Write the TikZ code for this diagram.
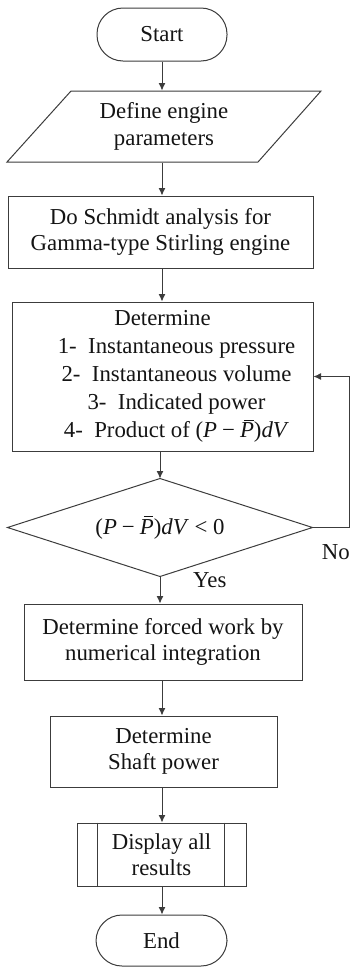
\documentclass[tikz,border=0pt]{standalone}
\usepackage{fontspec}
\setmainfont{Liberation Serif}
\usetikzlibrary{arrows.meta}
\definecolor{linec}{RGB}{60,60,60}
\definecolor{textc}{RGB}{20,20,20}
\newcommand{\pbar}{\textit{P}\llap{\raisebox{0.73em}{\rule{0.42em}{0.055em}}\hspace{0.02em}}}
\newcommand{\pexpr}{(\textit{P}\hspace{0.22em}−\hspace{0.22em}\pbar)\textit{dV}}
\begin{document}
\begin{tikzpicture}[x=1pt,y=-1pt,
  base/.style={draw=linec,line width=1pt,inner sep=0pt,text=textc,align=center,
    font=\fontsize{22.8pt}{26.5pt}\selectfont},
  proc/.style={base,rectangle},
  term/.style={base,rectangle,rounded corners=26pt},
  shape only/.style={draw=linec,line width=1pt},
  arr/.style={draw=linec,line width=1pt,-{Latex[length=7.5pt,width=7pt]}},
  lbl/.style={text=textc,inner sep=0pt,font=\fontsize{22.8pt}{26.5pt}\selectfont}]
\useasboundingbox (0,0) rectangle (350,967);

\node[term,minimum width=130pt,minimum height=53pt] (start) at (162,34.5) {Start};

\node[base,draw=none,minimum width=250pt,minimum height=71pt] (define) at (164,126.5) {Define engine\\parameters};
\draw[shape only] (71,91) -- (321,91) -- (258,162) -- (7,162) -- cycle;

\node[proc,minimum width=305pt,minimum height=72pt] (schmidt) at (160.5,232) {Do Schmidt analysis for\\Gamma-type Stirling engine};

\node[proc,minimum width=301pt,minimum height=149pt,font=\fontsize{22.8pt}{28pt}\selectfont] (det) at (162.5,376.5)
  {Determine\\
   \hspace*{28pt}1-\ \ Instantaneous pressure\\
   \hspace*{28pt}2-\ \ Instantaneous volume\\
   \hspace*{28pt}3-\ \ Indicated power\\
   \hspace*{28pt}4-\ \ Product of \pexpr};

\node[base,draw=none,minimum width=304pt,minimum height=97pt] (dec) at (160,527.5) {\pexpr\ <\ 0};
\draw[shape only] (dec.north) -- (dec.east) -- (dec.south) -- (dec.west) -- cycle;

\node[proc,minimum width=278pt,minimum height=76pt] (forced) at (163,642) {Determine forced work by\\numerical integration};

\node[proc,minimum width=227pt,minimum height=71pt] (shaft) at (163.5,751.5) {Determine\\Shaft power};

\node[proc,minimum width=169pt,minimum height=63pt] (disp) at (161.5,854.5) {Display all\\results};
\draw[shape only] ([xshift=21pt]disp.north west) -- ([xshift=21pt]disp.south west);
\draw[shape only] ([xshift=-22pt]disp.north east) -- ([xshift=-22pt]disp.south east);

\node[term,minimum width=131pt,minimum height=51pt] (end) at (161.5,940.5) {End};

\coordinate (loop) at (349,527.5);

\draw[arr] (start.south) -- (start.south |- define.north);
\draw[arr] (start.south |- define.south) -- (start.south |- schmidt.north);
\draw[arr] (start.south |- schmidt.south) -- (start.south |- det.north);
\draw[arr] (dec.north |- det.south) -- (dec.north);
\draw[arr] (dec.south) -- (dec.south |- forced.north);
\draw[arr] (start.south |- forced.south) -- (start.south |- shaft.north);
\draw[arr] (start.south |- shaft.south) -- (start.south |- disp.north);
\draw[arr] (start.south |- disp.south) -- (start.south |- end.north);
\draw[arr] (dec.east) -- (loop) |- (det.east);

\node[lbl,anchor=base east] (no) at (350,559) {No};
\node[lbl,anchor=base west] (yes) at (193,587) {Yes};
\end{tikzpicture}
\end{document}
